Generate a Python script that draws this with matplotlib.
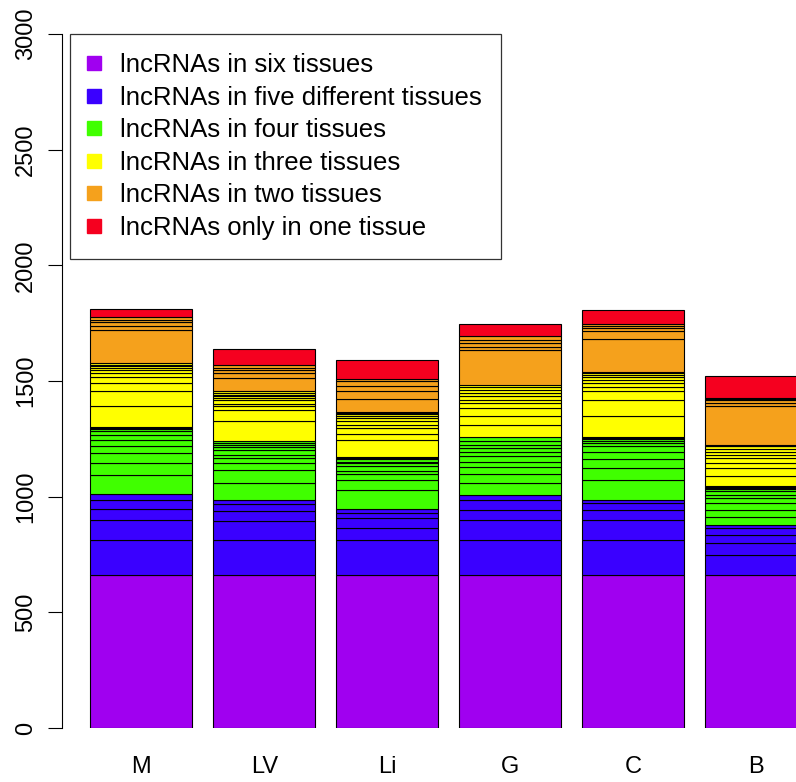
import matplotlib
matplotlib.use("Agg")
import matplotlib.pyplot as plt
from matplotlib.lines import Line2D

plt.rcParams['font.family'] = ['Liberation Sans', 'DejaVu Sans']

tissues = ['M', 'LV', 'Li', 'G', 'C', 'B']

# segment heights per tissue (bottom to top within each group)
six_tissues = [662, 662, 662, 662, 662, 662]
five_tissues = [
    [152, 85, 47, 38, 27],
    [152, 82, 44, 28, 16],
    [152, 50, 43, 22, 17],
    [152, 83, 46, 41, 24],
    [152, 83, 46, 29, 15],
    [87, 50, 36, 29, 15],
]
four_tissues = [
    [82, 52, 43, 29, 29, 22, 14, 10, 4, 3],
    [75, 57, 29, 22, 14, 22, 11, 10, 10, 5],
    [81, 43, 29, 14, 18, 14, 7, 9, 6, 4],
    [51, 40, 30, 23, 22, 21, 15, 14, 15, 17],
    [83, 54, 37, 34, 22, 17, 8, 7, 6, 5],
    [35, 29, 29, 22, 14, 15, 10, 4, 4, 3],
]
three_tissues = [
    [91, 65, 36, 26, 16, 14, 10, 8, 6, 5],
    [86, 51, 14, 12, 17, 7, 8, 7, 7, 7],
    [72, 29, 24, 15, 18, 11, 10, 6, 5, 5],
    [55, 36, 36, 21, 15, 14, 15, 14, 10, 10],
    [87, 69, 39, 19, 17, 14, 12, 10, 7, 5],
    [46, 34, 21, 22, 14, 14, 11, 11, 4, 4],
]
two_tissues = [
    [146, 14, 17, 12, 11],
    [58, 21, 12, 10, 14],
    [56, 33, 24, 19, 10],
    [153, 14, 15, 14, 15],
    [142, 33, 15, 10, 8],
    [165, 15, 11, 5, 5],
]
one_tissue = [35, 68, 81, 53, 60, 94]

labels = ['lncRNAs in six tissues', 'lncRNAs in five different tissues',
          'lncRNAs in four tissues', 'lncRNAs in three tissues',
          'lncRNAs in two tissues', 'lncRNAs only in one tissue']
colors = ['#A000F0', '#3A00FF', '#40FF00', '#FFFF00', '#F5A11C', '#F5001F']

fig = plt.figure(figsize=(7.96, 7.82), dpi=100)
ax = fig.add_axes([62 / 796, 54 / 782, 734 / 796, 694 / 782])

groups = [[[v] for v in six_tissues], five_tissues, four_tissues,
          three_tissues, two_tissues, [[v] for v in one_tissue]]

for i, t in enumerate(tissues):
    x = 0.7 + 1.2 * i
    bottom = 0
    for g, col in zip(groups, colors):
        for h in g[i]:
            ax.bar(x, h, bottom=bottom, width=1.0, color=col,
                   edgecolor='black', linewidth=0.8)
            bottom += h

ax.set_xlim(-0.073, 7.088)
ax.set_ylim(0, 3000)
ax.set_xticks([0.7 + 1.2 * i for i in range(len(tissues))])
ax.set_xticklabels(tissues, fontsize=17)
ax.tick_params(axis='x', length=0, pad=20)
ax.set_yticks(range(0, 3001, 500))
ax.set_yticklabels([str(v) for v in range(0, 3001, 500)], fontsize=17,
                   rotation=90, va='center')
ax.tick_params(axis='y', length=10, width=0.8, pad=8)

for s in ['top', 'right', 'bottom']:
    ax.spines[s].set_visible(False)
ax.spines['left'].set_bounds(0, 3000)
ax.spines['left'].set_linewidth(0.8)

handles = [Line2D([], [], marker='s', linestyle='none', markersize=10,
                  markerfacecolor=c, markeredgecolor=c) for c in colors]
leg = ax.legend(handles, labels, loc='upper left',
                bbox_to_anchor=(8 / 734, 1.0), borderaxespad=0,
                fontsize=18.5, frameon=True, fancybox=False,
                borderpad=0.75, handlelength=0.4, handletextpad=0.8,
                labelspacing=0.33)
leg.get_frame().set_edgecolor('black')
leg.get_frame().set_linewidth(0.9)

fig.savefig('out.png', dpi=100)
